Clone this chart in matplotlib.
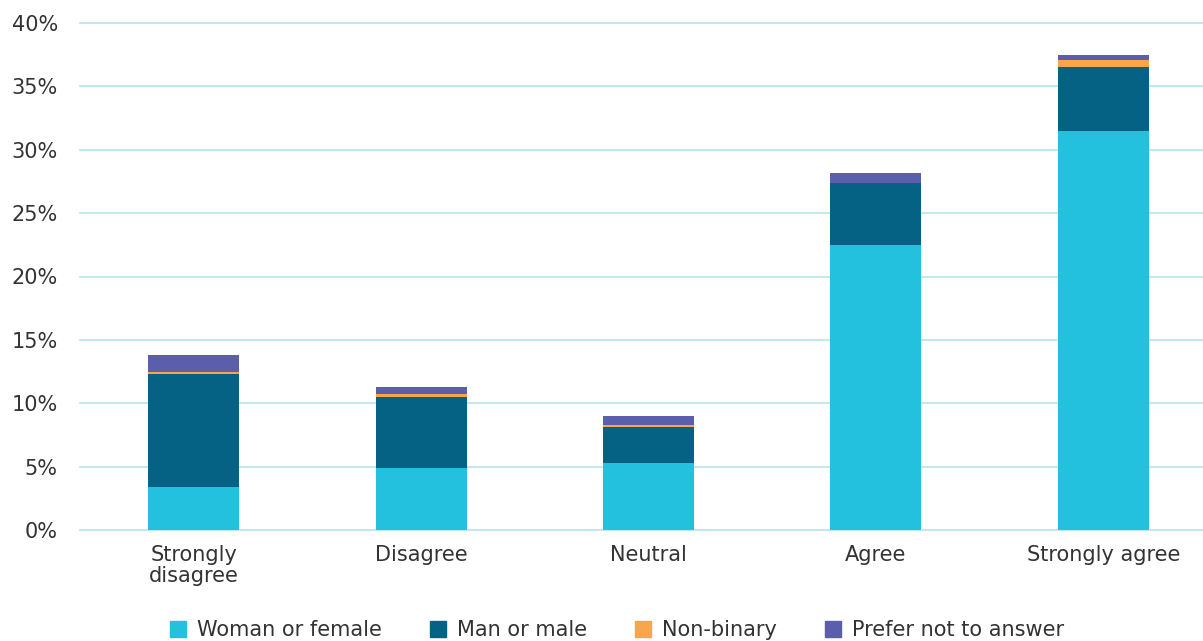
import numpy as np
import matplotlib.pyplot as plt
from matplotlib.lines import Line2D

categories = ["Strongly\ndisagree", "Disagree", "Neutral", "Agree", "Strongly agree"]
series_names = ["Woman or female", "Man or male", "Non-binary", "Prefer not to answer"]
woman = [3.4, 4.9, 5.3, 22.5, 31.5]
man = [8.9, 5.6, 2.8, 4.9, 5.0]
non_binary = [0.2, 0.2, 0.2, 0.0, 0.6]
prefer_not = [1.3, 0.6, 0.7, 0.75, 0.4]
y_ticks = [0, 5, 10, 15, 20, 25, 30, 35, 40]

colors = ["#23c1de", "#066285", "#f9a54c", "#5b5fab"]

plt.rcParams["font.family"] = ["DejaVu Sans"]

fig = plt.figure(figsize=(12.03, 6.41), dpi=100)
ax = fig.add_axes([80 / 1203, 111 / 641, 1137 / 1203, (530 - 23) / 641])

x = np.arange(len(categories))
bottom = np.zeros(len(categories))
for vals, col in zip([woman, man, non_binary, prefer_not], colors):
    ax.bar(x, vals, width=0.4, bottom=bottom, color=col, zorder=3)
    bottom += np.array(vals)

ax.set_xlim(-0.5, 4.5)
ax.set_ylim(0, 40)
ax.set_yticks(y_ticks)
ax.set_yticklabels([f"{t}%" for t in y_ticks])
ax.set_xticks(x)
ax.set_xticklabels(categories, linespacing=1.05)
ax.tick_params(axis="both", length=0, labelsize=15, colors="#333333")
ax.tick_params(axis="x", pad=11)
ax.tick_params(axis="y", pad=16)

ax.grid(axis="y", color="#b5e3ec", linewidth=1.2, zorder=0)
for gl in ax.get_ygridlines():
    gl.set_clip_on(False)
for s in ax.spines.values():
    s.set_visible(False)

handles = [Line2D([0], [0], marker="s", linestyle="none", markersize=11,
                  markerfacecolor=c, markeredgecolor=c) for c in colors]
fig.legend(handles, series_names, loc="center", bbox_to_anchor=(0.51, 1 - 630 / 641),
           ncol=4, frameon=False, fontsize=15, handletextpad=0.2, handlelength=1.4,
           columnspacing=2.0, labelcolor="#333333")

fig.savefig("out.png", dpi=100)
